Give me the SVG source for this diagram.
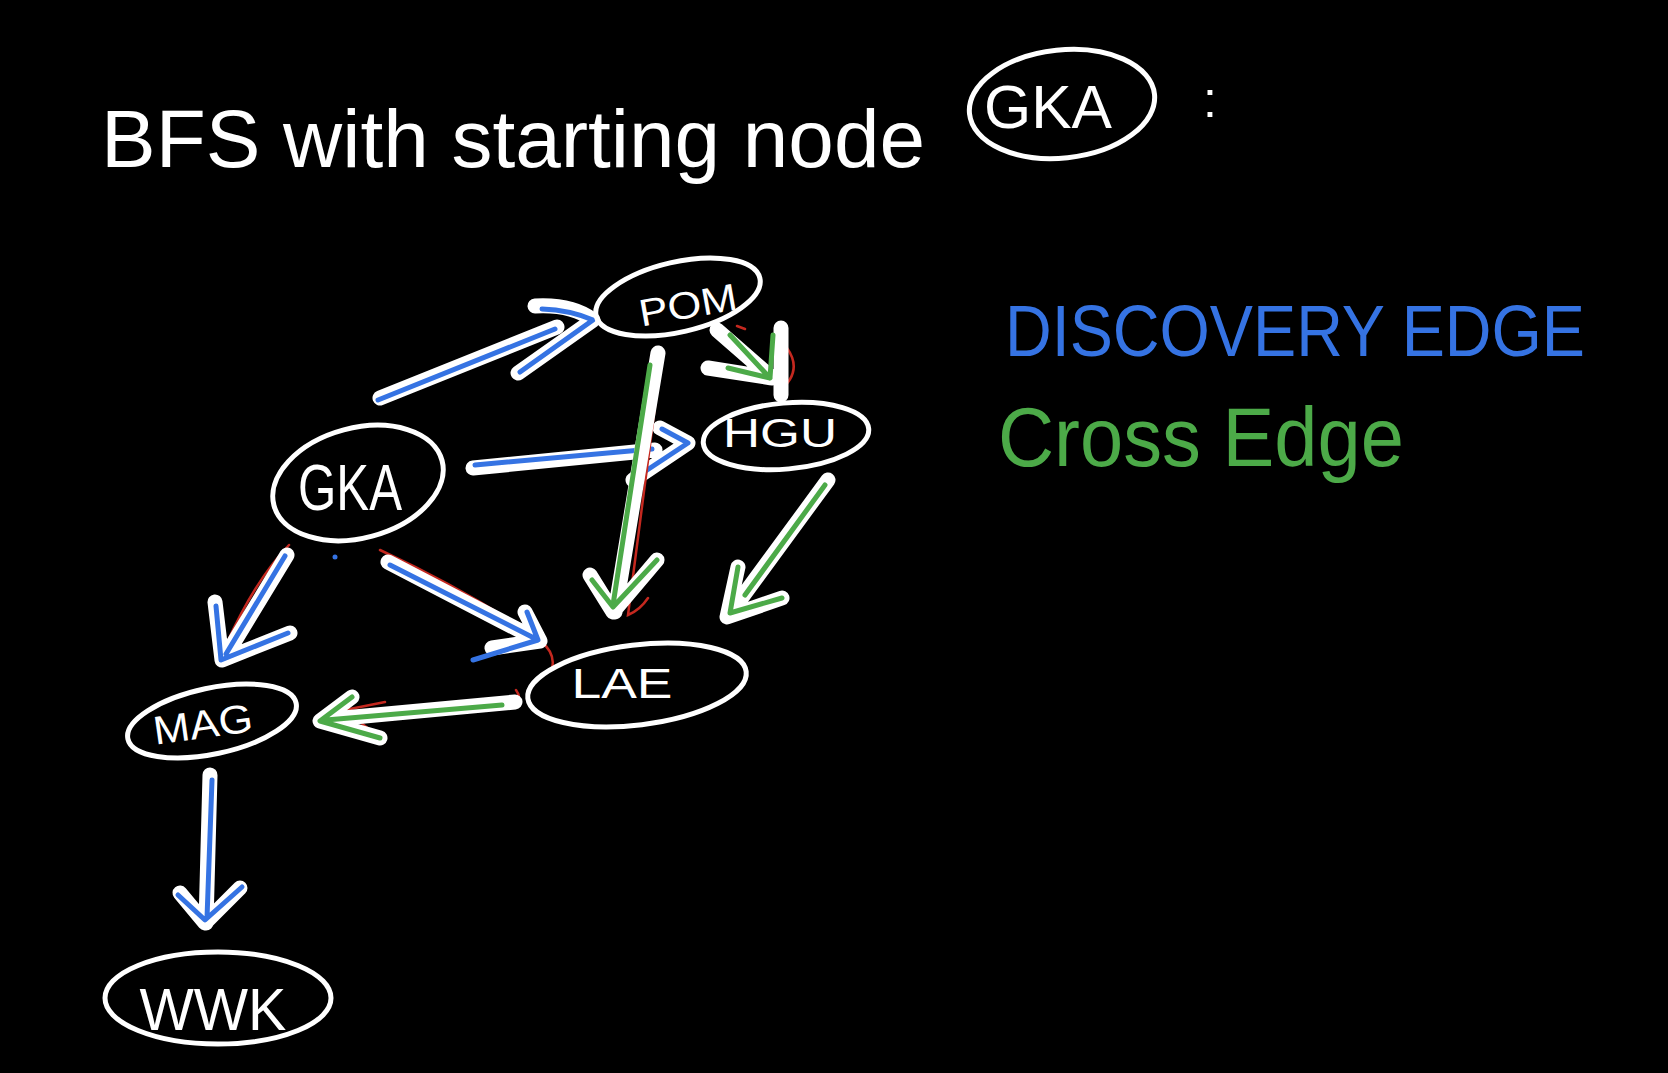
<svg xmlns="http://www.w3.org/2000/svg" width="1668" height="1073" viewBox="0 0 1668 1073">
<style>
.ring{fill:none;stroke:#fff;stroke-width:5}
.lbl{font-family:"Liberation Sans",sans-serif;fill:#fff;text-anchor:middle}
.hand{font-family:"Liberation Sans",sans-serif}
.wh{fill:none;stroke:#fff;stroke-width:15;stroke-linecap:round;stroke-linejoin:round}
.bl{fill:none;stroke:#3573e3;stroke-width:5;stroke-linecap:round;stroke-linejoin:round}
.gr{fill:none;stroke:#4caa48;stroke-width:5;stroke-linecap:round;stroke-linejoin:round}
.rd{fill:none;stroke:#c4281f;stroke-width:2.5;stroke-linecap:round}
</style>
<rect x="0" y="0" width="1668" height="1073" fill="#000"/>

<g id="title">
<text class="hand" x="101" y="167" font-size="82" fill="#fff" textLength="824" lengthAdjust="spacingAndGlyphs">BFS with starting node</text>
<ellipse class="ring" cx="1062" cy="104" rx="93" ry="54" transform="rotate(-6 1062 104)"/>
<text class="lbl" x="1048" y="128" font-size="62" textLength="128" lengthAdjust="spacingAndGlyphs">GKA</text>
<text class="hand" x="1203" y="117" font-size="50" fill="#fff">:</text>
</g>

<g id="legend">
<text class="hand" x="1005" y="356" font-size="72" fill="#3573e3" textLength="580" lengthAdjust="spacingAndGlyphs">DISCOVERY EDGE</text>
<text class="hand" x="998" y="466" font-size="84" fill="#4caa48" textLength="406" lengthAdjust="spacingAndGlyphs">Cross Edge</text>
</g>

<g id="connectors">
<!-- GKA -> POM -->
<path class="wh" d="M380,398 L557,327 M535,306 Q572,304 593,320 L518,373"/>
<path class="bl" d="M378,400 L555,329 M542,309 Q570,310 593,320 L520,372"/>
<!-- GKA -> HGU -->
<path class="wh" d="M473,468 L655,450 M660,428 L688,443 L633,480"/>
<path class="bl" d="M475,465 L652,449 M662,429 L688,443 L635,478"/>
<!-- GKA -> MAG -->
<path class="rd" d="M289,545 Q255,580 226,645"/>
<path class="wh" d="M287,555 L225,657 M215,602 L222,660 L290,633"/>
<path class="bl" d="M285,556 L226,654 M216,606 L221,660 L288,633"/>
<!-- GKA -> LAE -->
<path class="rd" d="M380,550 Q470,592 540,640 Q556,654 552,668"/>
<path class="wh" d="M388,562 L538,640 M525,612 L540,641 L492,648"/>
<path class="bl" d="M390,565 L536,639 M527,612 L538,640 L473,660"/>
<!-- MAG -> WWK -->
<path class="wh" d="M210,775 L206,923 M180,893 L205,923 L240,888"/>
<path class="bl" d="M212,780 L207,918 M178,895 L205,920 L242,887"/>
<!-- LAE -> MAG (cross) -->
<path class="rd" d="M385,702 L345,710 L370,730 M516,690 q6,8 0,15"/>
<path class="wh" d="M515,702 L322,720 M352,697 L320,721 L380,738"/>
<path class="gr" d="M502,705 L326,720 M352,697 L320,721 L380,738"/>
<!-- POM -> LAE (cross) -->
<path class="rd" d="M662,352 L628,615 Q640,610 648,598"/>
<path class="wh" d="M658,353 L615,612 M590,575 L613,612 L657,560"/>
<path class="gr" d="M650,365 L613,605 M592,580 L613,607 L657,560"/>
<!-- HGU -> LAE (cross) -->
<path class="wh" d="M828,480 L740,600 M738,567 L727,617 L782,598"/>
<path class="gr" d="M825,485 L745,595 M738,567 L730,613 L782,598"/>
<!-- POM -> HGU (cross) -->
<path class="rd" d="M737,326 l8,3 M787,348 Q804,372 778,392"/>
<path class="wh" d="M717,330 L772,378 M708,368 L772,378 M781,328 L781,395"/>
<path class="gr" d="M730,335 L770,378 M728,368 L770,378 L773,335"/>
<circle cx="335" cy="557" r="2.5" fill="#3573e3"/>
</g>

<g id="node-POM">
<ellipse class="ring" cx="678" cy="297" rx="84" ry="35" transform="rotate(-13 678 297)"/>
<text class="lbl" x="688" y="318" font-size="38" textLength="99" lengthAdjust="spacingAndGlyphs" transform="rotate(-10 688 305)">POM</text>
</g>
<g id="node-HGU">
<ellipse class="ring" cx="786" cy="436" rx="83" ry="33" transform="rotate(-5 786 436)"/>
<text class="lbl" x="780" y="447" font-size="40" textLength="114" lengthAdjust="spacingAndGlyphs">HGU</text>
</g>
<g id="node-GKA">
<ellipse class="ring" cx="358" cy="483" rx="87" ry="55" transform="rotate(-15 358 483)"/>
<text class="lbl" x="350" y="510" font-size="64" textLength="104" lengthAdjust="spacingAndGlyphs">GKA</text>
</g>
<g id="node-MAG">
<ellipse class="ring" cx="212" cy="721" rx="86" ry="33" transform="rotate(-12 212 721)"/>
<text class="lbl" x="203" y="738" font-size="40" textLength="100" lengthAdjust="spacingAndGlyphs" transform="rotate(-8 203 725)">MAG</text>
</g>
<g id="node-LAE">
<ellipse class="ring" cx="637" cy="685" rx="110" ry="40" transform="rotate(-7 637 685)"/>
<text class="lbl" x="622" y="698" font-size="42" textLength="101" lengthAdjust="spacingAndGlyphs">LAE</text>
</g>
<g id="node-WWK">
<ellipse class="ring" cx="218" cy="998" rx="113" ry="46"/>
<text class="lbl" x="213" y="1030" font-size="60" textLength="147" lengthAdjust="spacingAndGlyphs">WWK</text>
</g>
</svg>
